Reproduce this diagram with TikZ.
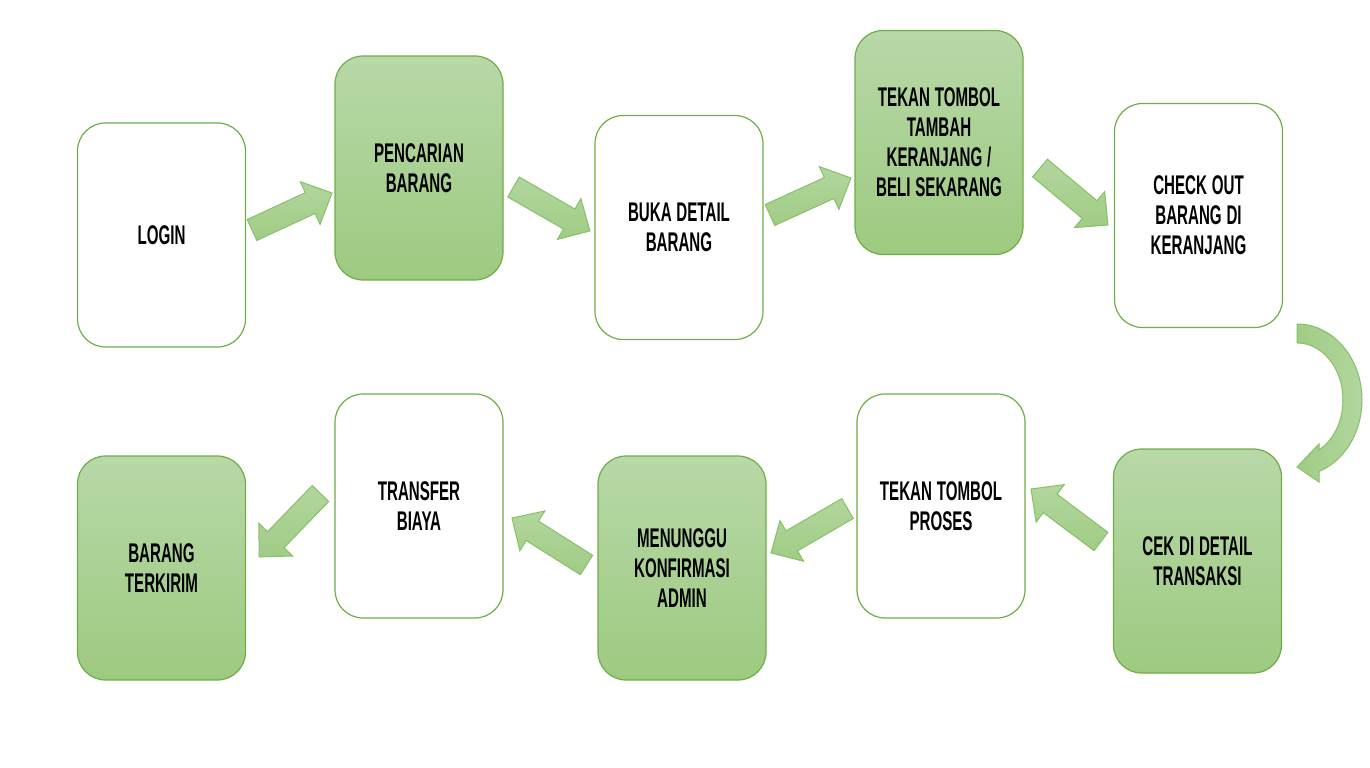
\documentclass[tikz,border=0pt]{standalone}
\usepackage{fontspec}
\usepackage{xcolor}
\usetikzlibrary{calc}
\setmainfont[FakeStretch=0.56]{Liberation Sans}

\definecolor{boxline}{RGB}{112,173,71}
\definecolor{boxtop}{RGB}{184,216,168}
\definecolor{boxbot}{RGB}{157,202,128}
\definecolor{arrowline}{RGB}{135,192,105}
\definecolor{arrowtop}{RGB}{178,214,158}
\definecolor{arrowbot}{RGB}{160,204,132}

% centred box text with tighter word spaces
\newcommand{\boxtext}{\centering\spaceskip=2.4pt plus 1pt minus 0.5pt\relax}

% block arrow between two named coordinates
\newcommand{\flowarrow}[2]{%
  \path[flow] let \p1=($(#2)-(#1)$), \n1={atan2(\y1,\x1)}, \n2={veclen(\x1,\y1)} in
    [shift={(#1)}, rotate=\n1]
    (0pt,-5.75pt) -- ({\n2*1pt-12pt},-5.75pt) -- ({\n2*1pt-12pt},-11.75pt)
    -- ({\n2*1pt},0pt) -- ({\n2*1pt-12pt},11.75pt) -- ({\n2*1pt-12pt},5.75pt)
    -- (0pt,5.75pt) -- cycle;}

\begin{document}
\begin{tikzpicture}[
    x=0.5pt, y=0.5pt,
    stepbox/.style={rectangle, draw=boxline, line width=0.6pt, rounded corners=14pt,
      inner sep=2pt, minimum width=84pt, minimum height=112pt, text width=78pt,
      font=\fontsize{13.5}{15}\selectfont\bfseries, execute at begin node=\boxtext},
    plain/.style={stepbox, fill=white},
    green/.style={stepbox, top color=boxtop, bottom color=boxbot},
    flow/.style={draw=arrowline, line width=0.5pt, top color=arrowtop, bottom color=arrowbot}
]
\useasboundingbox (0,0) rectangle (1370,767);

% Top row
\node[plain] (login) at (161.5,532) {LOGIN};
\node[green] (cari) at (419,599) {PENCARIAN\\BARANG};
\node[plain] (detail) at (679,539.5) {BUKA DETAIL\\BARANG};
\node[green] (tambah) at (939,624.5) {TEKAN TOMBOL\\TAMBAH\\KERANJANG /\\BELI SEKARANG};
\node[plain] (checkout) at (1198.5,551.5) {CHECK OUT\\BARANG DI\\KERANJANG};

% Bottom row
\node[green] (cek) at (1197.5,206) {CEK DI DETAIL\\TRANSAKSI};
\node[plain] (proses) at (941,261) {TEKAN TOMBOL\\PROSES};
\node[green] (tunggu) at (682,199) {MENUNGGU\\KONFIRMASI\\ADMIN};
\node[plain] (transfer) at (419,261) {TRANSFER\\BIAYA};
\node[green] (terkirim) at (161.5,199) {BARANG\\TERKIRIM};

% Arrow ends
\coordinate (a1s) at (252,537);    \coordinate (a1e) at (332,574);
\coordinate (a2s) at (513.5,580);  \coordinate (a2e) at (590,536);
\coordinate (a3s) at (770,552);    \coordinate (a3e) at (851,589);
\coordinate (a4s) at (1040,599);   \coordinate (a4e) at (1108,542);
\coordinate (a6s) at (1101,225.5); \coordinate (a6e) at (1031,278);
\coordinate (a7s) at (847.5,258.5);\coordinate (a7e) at (771,214);
\coordinate (a8s) at (586.5,202);  \coordinate (a8e) at (512,249);
\coordinate (a9s) at (320.5,273.5);\coordinate (a9e) at (259,210);

\flowarrow{a1s}{a1e}
\flowarrow{a2s}{a2e}
\flowarrow{a3s}{a3e}
\flowarrow{a4s}{a4e}
\flowarrow{a6s}{a6e}
\flowarrow{a7s}{a7e}
\flowarrow{a8s}{a8e}
\flowarrow{a9s}{a9e}

% Curved arrow down the right side
\path[draw=arrowline, line width=0.5pt, left color=arrowbot, right color=arrowtop]
  (1297,443) arc[start angle=90, end angle=-70.2, x radius=32.5pt, y radius=38pt]
  -- (1319,285) -- (1297,300) -- (1319,323) -- (1319,317)
  arc[start angle=-61.4, end angle=90, x radius=23pt, y radius=28.5pt]
  -- cycle;

\end{tikzpicture}
\end{document}
